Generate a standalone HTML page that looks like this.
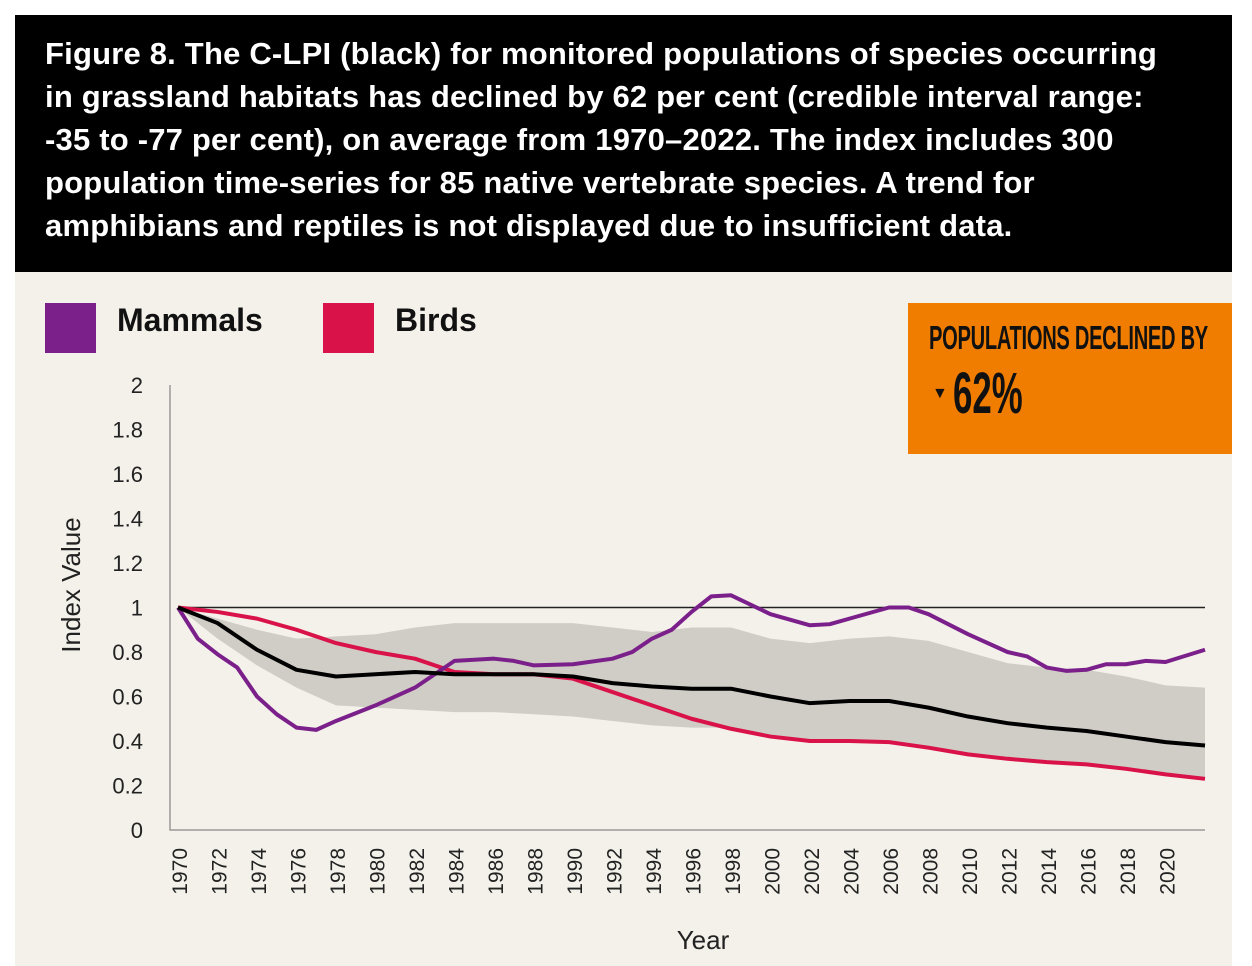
<!DOCTYPE html>
<html><head><meta charset="utf-8"><style>
body{margin:0;width:1252px;height:966px;background:#fff;font-family:"Liberation Sans",sans-serif;position:relative;overflow:hidden}
#hdr{position:absolute;left:15px;top:15px;width:1217px;height:257px;background:#000}
#hdr p{margin:0;position:absolute;left:30px;top:17px;color:#fff;font-weight:bold;font-size:31px;line-height:43px;white-space:nowrap;letter-spacing:0.2px}
#bg{position:absolute;left:15px;top:272px;width:1217px;height:694px;background:#f3f1ea}
.sw{position:absolute;width:51px;height:50px}
.lg{position:absolute;font-weight:bold;font-size:32px;color:#111}
#box{position:absolute;left:908px;top:303px;width:324px;height:151px;background:#f07d00}
</style></head><body>
<div id="hdr"><p>Figure 8. The C-LPI (black) for monitored populations of species occurring<br>in grassland habitats has declined by 62 per cent (credible interval range:<br>-35 to -77 per cent), on average from 1970–2022. The index includes 300<br>population time-series for 85 native vertebrate species. A trend for<br>amphibians and reptiles is not displayed due to insufficient data.</p></div>
<div id="bg"></div>
<div class="sw" style="left:45px;top:303px;background:#7b1f8a"></div>
<div class="lg" style="left:117px;top:302px">Mammals</div>
<div class="sw" style="left:323px;top:303px;background:#d9134a"></div>
<div class="lg" style="left:395px;top:302px">Birds</div>
<div id="box">
<div style="position:absolute;left:21px;top:16px;font-weight:bold;font-size:33px;color:#111;transform:scaleX(0.61);transform-origin:left top;white-space:nowrap;letter-spacing:-0.5px">POPULATIONS DECLINED BY</div>
<div style="position:absolute;left:24px;top:82px;font-size:16px;color:#111">▼</div>
<div style="position:absolute;left:45px;top:57px;font-weight:bold;font-size:58px;color:#111;transform:scaleX(0.6);transform-origin:left top;white-space:nowrap">62%</div>
</div>
<svg id="chart" width="1252" height="966" style="position:absolute;left:0;top:0"></svg>
<script>
const years=[1970,1972,1974,1976,1978,1980,1982,1984,1986,1988,1990,1992,1994,1996,1998,2000,2002,2004,2006,2008,2010,2012,2014,2016,2018,2020,2022];
const clpi=[1.0,0.93,0.81,0.72,0.69,0.70,0.71,0.70,0.70,0.70,0.69,0.66,0.645,0.635,0.635,0.60,0.57,0.58,0.58,0.55,0.51,0.48,0.46,0.445,0.42,0.395,0.38];
const ciUpper=[1.0,0.95,0.90,0.86,0.87,0.88,0.91,0.93,0.93,0.93,0.93,0.91,0.89,0.91,0.91,0.86,0.84,0.86,0.87,0.85,0.80,0.75,0.73,0.72,0.69,0.65,0.64];
const ciLower=[1.0,0.86,0.74,0.64,0.56,0.55,0.54,0.53,0.53,0.52,0.51,0.49,0.47,0.46,0.46,0.42,0.40,0.40,0.39,0.37,0.34,0.32,0.305,0.29,0.275,0.25,0.235];
const birds=[1.0,0.98,0.95,0.90,0.84,0.80,0.77,0.71,0.70,0.70,0.68,0.62,0.56,0.50,0.455,0.42,0.40,0.40,0.395,0.37,0.34,0.32,0.305,0.295,0.275,0.25,0.23];
const mamYears=[1970,1971,1972,1973,1974,1975,1976,1977,1978,1980,1982,1984,1986,1987,1988,1990,1992,1993,1994,1995,1996,1997,1998,2000,2002,2003,2004,2006,2007,2008,2010,2012,2013,2014,2015,2016,2017,2018,2019,2020,2022];
const mammals=[1.0,0.86,0.79,0.73,0.60,0.52,0.46,0.45,0.49,0.56,0.64,0.76,0.77,0.76,0.74,0.745,0.77,0.80,0.86,0.90,0.98,1.05,1.055,0.97,0.92,0.925,0.95,1.0,1.0,0.97,0.88,0.80,0.78,0.73,0.715,0.72,0.745,0.745,0.76,0.755,0.81];
const yTicks=[0,0.2,0.4,0.6,0.8,1,1.2,1.4,1.6,1.8,2];
const xTickYears=[1970,1972,1974,1976,1978,1980,1982,1984,1986,1988,1990,1992,1994,1996,1998,2000,2002,2004,2006,2008,2010,2012,2014,2016,2018,2020];
const svg=document.getElementById('chart');const NS='http://www.w3.org/2000/svg';
const X=y=>178+(y-1970)*19.75;const Y=v=>830-222.5*v;
function mk(t,a){const e=document.createElementNS(NS,t);for(const k in a)e.setAttribute(k,a[k]);svg.appendChild(e);return e;}
let d='M'+years.map((y,i)=>X(y)+','+Y(ciUpper[i])).join('L');
for(let i=years.length-1;i>=0;i--)d+='L'+X(years[i])+','+Y(ciLower[i]);
let band=mk('path',{d:d+'Z',fill:'#d0cdc6'});


let ax=mk('path',{d:'M170,385V830H1205',stroke:'#999',fill:'none','stroke-width':1.5});


let base=mk('line',{x1:178,x2:1205,y1:Y(1),y2:Y(1),stroke:'#222','stroke-width':1.5});


yTicks.forEach(v=>{const t=mk('text',{x:143,y:Y(v)+8,'text-anchor':'end','font-size':22,fill:'#222'});t.textContent=String(v);

});
xTickYears.forEach(yr=>{const t=mk('text',{transform:`translate(${X(yr)+9},${848}) rotate(-90)`,'text-anchor':'end','font-size':21,fill:'#222'});t.textContent=String(yr);

});
function line(xs,vs,c,name){const p=mk('path',{d:'M'+xs.map((y,i)=>X(y)+','+Y(vs[i])).join('L'),stroke:c,'stroke-width':4,fill:'none','stroke-linejoin':'round'});

}
line(years,birds,'#d9134a','birds-line');
line(mamYears,mammals,'#7b1f8a','mammals-line');
line(years,clpi,'#000','clpi-line');
let xt=mk('text',{x:703,y:949,'text-anchor':'middle','font-size':26,fill:'#222'});xt.textContent='Year';


let yt=mk('text',{transform:'translate(80,585) rotate(-90)','text-anchor':'middle','font-size':26,fill:'#222'});yt.textContent='Index Value';


</script>
</body></html>
